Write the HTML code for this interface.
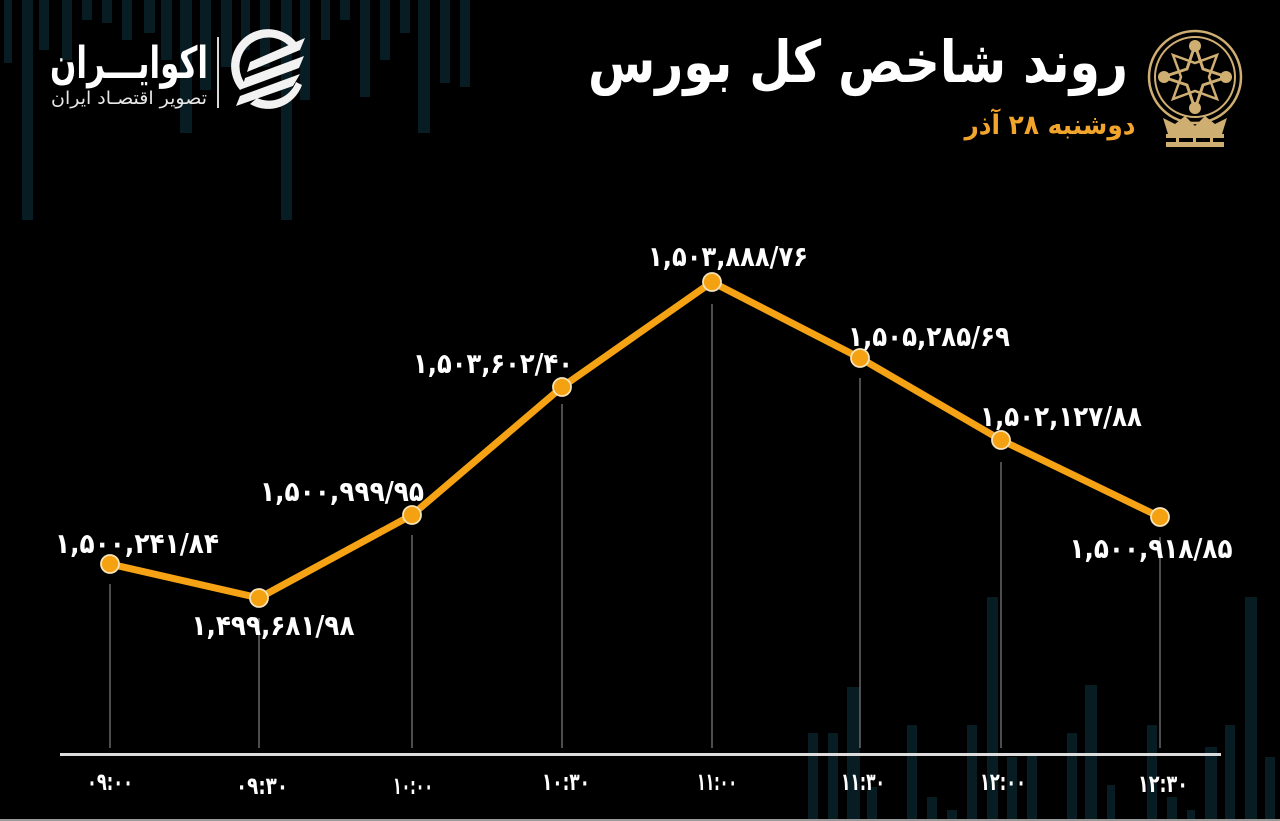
<!DOCTYPE html>
<html><head><meta charset="utf-8"><style>
html,body{margin:0;padding:0;background:#000;}
svg{display:block;}
.lbl{font-family:"DejaVu Sans",sans-serif;font-weight:bold;fill:#fff;}
</style></head><body>
<svg width="1280" height="821" viewBox="0 0 1280 821" xmlns="http://www.w3.org/2000/svg">
<rect width="1280" height="821" fill="#000"/>
<!-- background bars top -->
<g fill="#071c23">
<rect x="4" y="0" width="8" height="63"/>
<rect x="22" y="0" width="11" height="220"/>
<rect x="39" y="0" width="10" height="50"/>
<rect x="62" y="0" width="10" height="60"/>
<rect x="82" y="0" width="10" height="20"/>
<rect x="102" y="0" width="10" height="23"/>
<rect x="122" y="0" width="10" height="40"/>
<rect x="144" y="0" width="11" height="33"/>
<rect x="161" y="0" width="11" height="60"/>
<rect x="180" y="0" width="12" height="133"/>
<rect x="200" y="0" width="11" height="90"/>
<rect x="221" y="0" width="11" height="67"/>
<rect x="241" y="0" width="9" height="50"/>
<rect x="260" y="0" width="10" height="67"/>
<rect x="281" y="0" width="11" height="220"/>
<rect x="300" y="0" width="10" height="100"/>
<rect x="321" y="0" width="9" height="40"/>
<rect x="340" y="0" width="10" height="20"/>
<rect x="360" y="0" width="10" height="97"/>
<rect x="380" y="0" width="10" height="60"/>
<rect x="400" y="0" width="10" height="33"/>
<rect x="418" y="0" width="12" height="133"/>
<rect x="440" y="0" width="10" height="83"/>
<rect x="460" y="0" width="10" height="87"/>
</g>
<!-- background bars bottom -->
<g fill="#071c23">
<rect x="808" y="733" width="10" height="88"/>
<rect x="828" y="733" width="10" height="88"/>
<rect x="847" y="687" width="13" height="134"/>
<rect x="867" y="787" width="10" height="34"/>
<rect x="907" y="725" width="10" height="96"/>
<rect x="927" y="797" width="10" height="24"/>
<rect x="947" y="810" width="10" height="11"/>
<rect x="967" y="725" width="10" height="96"/>
<rect x="987" y="597" width="11" height="224"/>
<rect x="1007" y="757" width="10" height="64"/>
<rect x="1027" y="753" width="10" height="68"/>
<rect x="1067" y="733" width="10" height="88"/>
<rect x="1085" y="685" width="12" height="136"/>
<rect x="1107" y="785" width="8" height="36"/>
<rect x="1147" y="725" width="10" height="96"/>
<rect x="1167" y="797" width="10" height="24"/>
<rect x="1187" y="810" width="8" height="11"/>
<rect x="1205" y="747" width="12" height="74"/>
<rect x="1225" y="725" width="10" height="96"/>
<rect x="1245" y="597" width="12" height="224"/>
<rect x="1265" y="757" width="10" height="64"/>
</g>
<rect x="0" y="819" width="1280" height="2" fill="#9a9a9a"/>

<!-- left logo -->
<text class="lbl" x="129" y="78" font-size="44" text-anchor="middle" direction="rtl" textLength="158" lengthAdjust="spacingAndGlyphs">اکوایـــران</text>
<text x="129" y="104" font-family="DejaVu Sans, sans-serif" font-size="18" fill="#e8e8e8" text-anchor="middle" direction="rtl" textLength="156" lengthAdjust="spacingAndGlyphs">تصویر اقتصـاد ایران</text>
<rect x="217" y="37" width="2" height="71" fill="#d8d8d8"/>
<g fill="#f2f2f2">
<path d="M296,42 A36,36 0 0 0 240,90 L247,86 A29,29 0 0 1 290,47 Z"/>
<path d="M302,85 A36,36 0 0 1 250,104 L257,98 A29,29 0 0 0 296,82 Z"/>
<polygon points="250,62 305,38 300,50 247,72"/>
<polygon points="245,78 304,56 299,68 242,89"/>
<polygon points="240,96 300,74 293,86 236,106"/>
</g>

<!-- title -->
<text class="lbl" x="858" y="82" font-size="58" text-anchor="middle" direction="rtl" textLength="540" lengthAdjust="spacingAndGlyphs">روند شاخص کل بورس</text>
<text x="1050" y="134" font-family="DejaVu Sans, sans-serif" font-weight="bold" font-size="27" fill="#f2a52c" text-anchor="middle" direction="rtl" textLength="171" lengthAdjust="spacingAndGlyphs">دوشنبه ۲۸ آذر</text>

<!-- bourse logo -->
<g stroke="#cfae72" fill="none">
<circle cx="1195" cy="77" r="46" stroke-width="2.5"/>
<circle cx="1195" cy="77" r="40" stroke-width="2"/>
<path d="M1195,45 L1203,69 L1227,77 L1203,85 L1195,109 L1187,85 L1163,77 L1187,69 Z" stroke-width="3"/>
<path d="M1173,55 L1195,63 L1217,55 L1209,77 L1217,99 L1195,91 L1173,99 L1181,77 Z" stroke-width="2.5"/>
</g>
<g fill="#cfae72">
<circle cx="1195" cy="46" r="6"/>
<circle cx="1195" cy="108" r="6"/>
<circle cx="1164" cy="77" r="6"/>
<circle cx="1226" cy="77" r="6"/>
<path d="M1163,118 L1175,124 L1185,116 L1195,126 L1205,116 L1215,124 L1227,118 L1222,134 L1168,134 Z"/>
<rect x="1166" y="134" width="58" height="4"/>
<rect x="1166" y="142" width="58" height="5"/>
<rect x="1176" y="136" width="3" height="8"/>
<rect x="1193" y="136" width="3" height="8"/>
<rect x="1210" y="136" width="3" height="8"/>
</g>

<!-- drop lines -->
<g stroke="#9a9a9a" stroke-width="1">
<line x1="110" y1="584" x2="110" y2="748"/>
<line x1="259" y1="618" x2="259" y2="748"/>
<line x1="412" y1="535" x2="412" y2="748"/>
<line x1="562" y1="404" x2="562" y2="748"/>
<line x1="712" y1="304" x2="712" y2="748"/>
<line x1="860" y1="378" x2="860" y2="748"/>
<line x1="1001" y1="462" x2="1001" y2="748"/>
<line x1="1160" y1="537" x2="1160" y2="748"/>
</g>
<!-- axis -->
<rect x="60" y="753" width="1161" height="3" fill="#dcdcdc"/>

<!-- series -->
<polyline points="110,564 259,598 412,515 562,387 712,282 860,358 1001,440 1160,517" fill="none" stroke="#f5a314" stroke-width="7" stroke-linejoin="round" stroke-linecap="round"/>
<g fill="#f4a112" stroke="#f7e4b8" stroke-width="1.8">
<circle cx="110" cy="564" r="9"/>
<circle cx="259" cy="598" r="9"/>
<circle cx="412" cy="515" r="9"/>
<circle cx="562" cy="387" r="9"/>
<circle cx="712" cy="282" r="9"/>
<circle cx="860" cy="358" r="9"/>
<circle cx="1001" cy="440" r="9"/>
<circle cx="1160" cy="517" r="9"/>
</g>

<!-- data labels -->
<g class="lbl" font-size="28" text-anchor="middle" direction="ltr">
<text x="137" y="553" textLength="164" lengthAdjust="spacingAndGlyphs">۱,۵۰۰,۲۴۱/۸۴</text>
<text x="273" y="635" textLength="163" lengthAdjust="spacingAndGlyphs">۱,۴۹۹,۶۸۱/۹۸</text>
<text x="342" y="501" textLength="164" lengthAdjust="spacingAndGlyphs">۱,۵۰۰,۹۹۹/۹۵</text>
<text x="493" y="373" textLength="160" lengthAdjust="spacingAndGlyphs">۱,۵۰۳,۶۰۲/۴۰</text>
<text x="728" y="266" textLength="160" lengthAdjust="spacingAndGlyphs">۱,۵۰۳,۸۸۸/۷۶</text>
<text x="929" y="346" textLength="162" lengthAdjust="spacingAndGlyphs">۱,۵۰۵,۲۸۵/۶۹</text>
<text x="1061" y="426" textLength="162" lengthAdjust="spacingAndGlyphs">۱,۵۰۲,۱۲۷/۸۸</text>
<text x="1151" y="558" textLength="163" lengthAdjust="spacingAndGlyphs">۱,۵۰۰,۹۱۸/۸۵</text>
</g>

<!-- x tick labels -->
<g class="lbl" font-size="24" text-anchor="middle" direction="ltr">
<text x="110" y="790" textLength="46" lengthAdjust="spacingAndGlyphs">۰۹:۰۰</text>
<text x="262" y="794" textLength="52" lengthAdjust="spacingAndGlyphs">۰۹:۳۰</text>
<text x="413" y="794" textLength="40" lengthAdjust="spacingAndGlyphs">۱۰:۰۰</text>
<text x="566" y="790" textLength="48" lengthAdjust="spacingAndGlyphs">۱۰:۳۰</text>
<text x="717" y="790" textLength="40" lengthAdjust="spacingAndGlyphs">۱۱:۰۰</text>
<text x="863" y="790" textLength="44" lengthAdjust="spacingAndGlyphs">۱۱:۳۰</text>
<text x="1003" y="790" textLength="46" lengthAdjust="spacingAndGlyphs">۱۲:۰۰</text>
<text x="1163" y="792" textLength="50" lengthAdjust="spacingAndGlyphs">۱۲:۳۰</text>
</g>
</svg>
</body></html>
